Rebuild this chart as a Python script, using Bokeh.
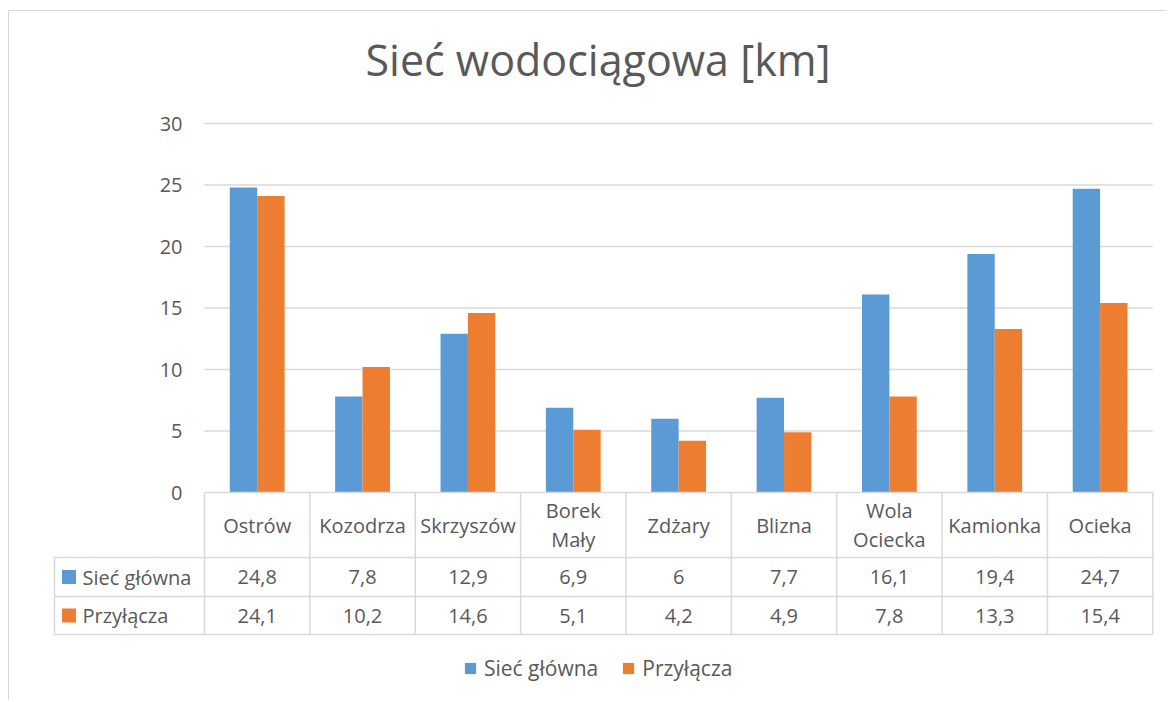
from bokeh.plotting import figure
from bokeh.models import Range1d, LinearAxis, FixedTicker, Legend, LegendItem, ColumnDataSource
from bokeh.core.properties import value
from bokeh.embed import file_html
from bokeh.resources import INLINE

# ---- data ----
categories = ["Ostrów", "Kozodrza", "Skrzyszów", "Borek\nMały", "Zdżary", "Blizna",
              "Wola\nOciecka", "Kamionka", "Ocieka"]
siec_glowna = [24.8, 7.8, 12.9, 6.9, 6.0, 7.7, 16.1, 19.4, 24.7]
przylacza = [24.1, 10.2, 14.6, 5.1, 4.2, 4.9, 7.8, 13.3, 15.4]
series_names = ["Sieć główna", "Przyłącza"]
y_ticks = [0, 5, 10, 15, 20, 25, 30]

# ---- style ----
BLUE = "#5B9BD5"
ORANGE = "#ED7D31"
TXT = "#595959"
LINE = "#D9D9D9"
FONT = "Open Sans"

OX, OY = 8, 10                   # figure origin on the page
W, H = 1158, 690
FRAME_L, FRAME_R = 50, 1155      # page px
FRAME_T, FRAME_B = 100, OY + H
PLOT_L, PLOT_R = 203, 1151.3
Y0_PX, Y30_PX = 491, 122
HDR_B, ROW1_B, ROW2_B = 556, 595, 633
LEFT_COL = 53
LEGEND_L = 462
TITLE_L = 364

n = len(categories)
ux = (PLOT_R - PLOT_L) / n
uy = (Y0_PX - Y30_PX) / 30.0

def xd(px):
    return (px - PLOT_L) / ux

def yd(py):
    return (Y0_PX - py) / uy

p = figure(width=W, height=H, output_backend="svg", toolbar_location=None,
           x_range=Range1d(xd(FRAME_L), xd(FRAME_R)),
           y_range=Range1d(yd(FRAME_B), yd(FRAME_T)),
           x_axis_type=None, y_axis_type=None,
           min_border_left=FRAME_L - OX, min_border_right=OX + W - FRAME_R,
           min_border_top=FRAME_T - OY, min_border_bottom=0,
           margin=(OY, 0, 0, OX),
           styles={"border-top": "1px solid #D9D9D9", "border-left": "1px solid #D9D9D9"})
p.outline_line_color = None
p.background_fill_color = "white"
p.border_fill_color = "white"

p.title.text = "Sieć wodociągowa [km]"
p.title.align = "left"
p.title.offset = TITLE_L - FRAME_L
p.title.text_font_size = "43px"
p.title.text_font_style = "normal"
p.title.text_color = TXT
p.title.text_font = FONT
p.title.standoff = 26

# gridlines
grid_ticks = [t for t in y_ticks if t > 0]
p.segment(x0=[0] * len(grid_ticks), x1=[n] * len(grid_ticks), y0=grid_ticks, y1=grid_ticks,
          line_color=LINE, line_width=1.5)

# y axis
yaxis = LinearAxis(fixed_location=0, ticker=FixedTicker(ticks=y_ticks))
yaxis.axis_line_color = None
yaxis.major_tick_line_color = None
yaxis.minor_tick_line_color = None
yaxis.major_tick_out = 0
yaxis.major_tick_in = 0
yaxis.major_label_standoff = 22
yaxis.major_label_text_font_size = "20px"
yaxis.major_label_text_color = TXT
yaxis.major_label_text_font = FONT
p.add_layout(yaxis, "left")

# bars
bw = 0.26
xc = [i + 0.5 for i in range(n)]
src = ColumnDataSource(dict(xb=[x - bw / 2 for x in xc], xo=[x + bw / 2 for x in xc],
                            sg=siec_glowna, pr=przylacza))
r1 = p.vbar(x="xb", top="sg", width=bw, bottom=0, source=src, fill_color=BLUE, line_color=None)
r2 = p.vbar(x="xo", top="pr", width=bw, bottom=0, source=src, fill_color=ORANGE, line_color=None)

# table lines
yh, y1b, y2b = yd(HDR_B), yd(ROW1_B), yd(ROW2_B)
xl = xd(LEFT_COL)
p.segment(x0=[0, xl, xl, xl], x1=[n, n, n, n], y0=[0, yh, y1b, y2b], y1=[0, yh, y1b, y2b],
          line_color=LINE, line_width=1.5)
vx = list(range(n + 1)) + [xl]
p.segment(x0=vx, x1=vx, y0=[0] * (n + 1) + [yh], y1=[y2b] * (n + 2),
          line_color=LINE, line_width=1.5)

# table text
fmt = lambda v: f"{v:g}".replace(".", ",")
ym_h = (0 + yh) / 2
ym_1 = (yh + y1b) / 2
ym_2 = (y1b + y2b) / 2
p.text(x=xc, y=[ym_h] * n, text=categories, text_align="center", text_baseline="middle",
       text_font=value(FONT), text_font_size="20px", text_color=TXT, text_line_height=1.1)
p.text(x=xc, y=[ym_1] * n, text=[fmt(v) for v in siec_glowna], text_align="center",
       text_baseline="middle", text_font=value(FONT), text_font_size="20px", text_color=TXT)
p.text(x=xc, y=[ym_2] * n, text=[fmt(v) for v in przylacza], text_align="center",
       text_baseline="middle", text_font=value(FONT), text_font_size="20px", text_color=TXT)

# table legend keys
p.scatter(x=[xd(67.5)] * 2, y=[ym_1, ym_2], marker="square", size=14,
          fill_color=[BLUE, ORANGE], line_color=None)
p.text(x=[xd(81)] * 2, y=[ym_1, ym_2], text=series_names, text_align="left",
       text_baseline="middle", text_font=value(FONT), text_font_size="20px", text_color=TXT)

# legend (inside frame, bottom)
legend = Legend(items=[LegendItem(label=series_names[0], renderers=[r1]),
                       LegendItem(label=series_names[1], renderers=[r2])],
                orientation="horizontal", location=(LEGEND_L - FRAME_L, 19),
                border_line_color=None, background_fill_alpha=0,
                glyph_width=14, glyph_height=14, label_standoff=7, spacing=23,
                label_text_font_size="21px", label_text_color=TXT, label_text_font=FONT,
                padding=0, margin=0)
p.add_layout(legend)

open("out.html", "w").write(file_html(p, INLINE))
